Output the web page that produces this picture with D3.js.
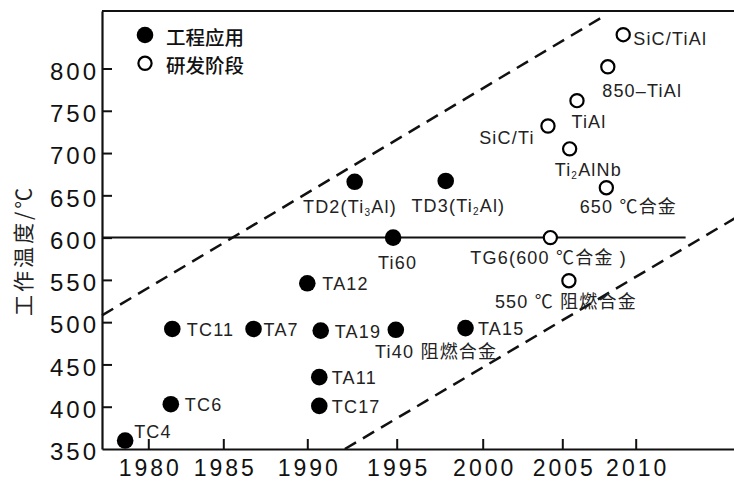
<!DOCTYPE html>
<html><head><meta charset="utf-8">
<script src="https://cdn.jsdelivr.net/npm/d3@7"></script>
<style>body{margin:0;background:#fff} svg{display:block}</style>
</head><body>
<svg id="chart" width="734" height="481"></svg>
<script>
// ---------- data ----------
const yearTicks = [1980, 1985, 1990, 1995, 2000, 2005, 2010];
const tempTicks = [350, 400, 450, 500, 550, 600, 650, 700, 750, 800];
const names  = ["TC4","TC6","TC11","TA7","TA12","TA19","TA11","TC17","Ti40","TA15","Ti60","TD2","TD3",
                "TG6","550","SiC/Ti","TiAl","Ti2AlNb","650","850-TiAl","SiC/TiAl"];
const years  = [1978.5,1981.5,1981.6,1986.8,1990.0,1990.75,1990.67,1990.67,1994.95,1999.0,1994.8,1992.65,1997.85,
                2004.25,2005.45,2004.1,2006.0,2005.5,2008.0,2008.1,2009.15];
const temps  = [360,403,492,492,546,490,435,401,491,493,600,666,667,
                600,549,732,762,705,659,802,840];
const stage  = ["eng","eng","eng","eng","eng","eng","eng","eng","eng","eng","eng","eng","eng",
                "dev","dev","dev","dev","dev","dev","dev","dev"];
const labels = ["TC4","TC6","TC11","TA7","TA12","TA19","TA11","TC17","Ti40  阻燃合金","TA15","Ti60",
                "TD2(Ti_3Al)","TD3(Ti_2Al)","TG6(600 ℃合金 )","550 ℃ 阻燃合金","SiC/Ti","TiAl","Ti_2AlNb",
                "650 ℃合金","850–TiAl","SiC/TiAl"];
const legendLabels = ["工程应用", "研发阶段"];
const stageKeys = ["eng", "dev"];
const yTitle = "工作温度/℃";
const refTemp = 600, refEndYear = 2013.4;
const upperYears = [1977, 2007.6],  upperTemps = [508, 859.5];
const lowerYears = [1992.1, 2017],  lowerTemps = [350, 625.4];

// ---------- layout ----------
const W = 734, H = 481;
const x = d3.scaleLinear()
  .domain([1977, ...yearTicks, 2017])
  .range([102, 148.3, 223.3, 307.3, 396.7, 482.7, 562.3, 635.7, 738.5]);
const y = d3.scaleLinear().domain([350, 868]).range([449, 11]);

// label placement: [dx, dy, anchor]
const labelPos = {
  "TC4":[9,-3,"start"], "TC6":[14,7,"start"], "TC11":[14.5,7,"start"], "TA7":[10,7,"start"],
  "TA12":[15,7,"start"], "TA19":[14,7,"start"], "TA11":[12.5,7,"start"], "TC17":[12.5,7,"start"],
  "Ti40":[-20.7,28,"start"], "TA15":[12.5,7,"start"], "Ti60":[4.5,31,"middle"],
  "TD2":[-51.7,31,"start"], "TD3":[-34.3,31,"start"], "TG6":[-80,26.5,"start"], "550":[-74,27,"start"],
  "SiC/Ti":[-13.3,18,"end"], "TiAl":[-5.6,27.3,"start"], "Ti2AlNb":[-15,26.7,"start"],
  "650":[-26.7,25.3,"start"], "850-TiAl":[-5.6,30,"start"], "SiC/TiAl":[10,10.7,"start"]
};

const svg = d3.select("#chart");
svg.append("rect").attr("width", W).attr("height", H).attr("fill", "#fff");
const LATIN = "'Liberation Sans', Arial, 'Noto Sans CJK SC', sans-serif";

// axes
const gx = svg.append("g").attr("transform", "translate(0,449)")
  .call(d3.axisBottom(x).tickValues(yearTicks).tickFormat(d3.format("d"))
        .tickSizeInner(-10).tickSizeOuter(0).tickPadding(10.5));
const gy = svg.append("g").attr("transform", "translate(102,0)")
  .call(d3.axisLeft(y).tickValues(tempTicks).tickSizeInner(-10).tickSizeOuter(0).tickPadding(3));
[gx, gy].forEach(g => {
  g.select(".domain").attr("stroke", "#111").attr("stroke-width", 2.2);
  g.selectAll(".tick line").attr("stroke", "#111").attr("stroke-width", 2);
  g.selectAll(".tick text").attr("fill", "#111").style("font-family", LATIN)
    .style("letter-spacing", "3px");
});
gx.selectAll(".tick text").style("font-size", "23px").attr("dx", "1.5");
gy.selectAll(".tick text").style("font-size", "24px").attr("dy", "0.45em");
gy.selectAll(".tick").filter(d => d === 350).select("line").remove();

// top frame line
svg.append("line").attr("x1", x(1977)).attr("x2", W).attr("y1", y(868)).attr("y2", y(868))
  .attr("stroke", "#111").attr("stroke-width", 2.2);

// y title
svg.append("text").attr("transform", `translate(22,${y(585)}) rotate(-90)`)
  .attr("text-anchor", "middle").attr("dominant-baseline", "central")
  .style("font-family", "'Noto Sans CJK SC', sans-serif").style("font-size", "21px")
  .style("letter-spacing", "3px").attr("fill", "#222").text(yTitle);

// reference line at 600
svg.append("line").attr("x1", x(1977)).attr("x2", x(refEndYear))
  .attr("y1", y(refTemp)).attr("y2", y(refTemp)).attr("stroke", "#111").attr("stroke-width", 2);

// dashed trend lines
const line = d3.line().x(d => x(d[0])).y(d => y(d[1]));
[[upperYears, upperTemps], [lowerYears, lowerTemps]].forEach(([ys, ts]) => {
  svg.append("path").datum(ys.map((v, i) => [v, ts[i]])).attr("d", line)
    .attr("fill", "none").attr("stroke", "#111").attr("stroke-width", 2.5)
    .attr("stroke-dasharray", "13,8");
});

// points
const pts = names.map((n, i) => ({name: n, year: years[i], temp: temps[i], stage: stage[i], label: labels[i]}));
svg.append("g").selectAll("circle").data(pts).join("circle")
  .attr("cx", d => x(d.year)).attr("cy", d => y(d.temp))
  .attr("r", d => d.stage === "eng" ? 8.3 : 6.6)
  .attr("fill", d => d.stage === "eng" ? "#000" : "#fff")
  .attr("stroke", "#000").attr("stroke-width", d => d.stage === "eng" ? 0 : 2.2);

// labels
function richText(sel, str) {
  const parts = str.split(/_(\d)/);
  let shifted = false;
  parts.forEach((p, i) => {
    if (p === "") return;
    const t = sel.append("tspan").text(p);
    if (i % 2 === 1) { t.style("font-size", "10px").attr("dy", 3); shifted = true; }
    else if (shifted) { t.attr("dy", -3); shifted = false; }
  });
}
const lg = svg.append("g").style("font-family", LATIN).style("font-size", "18px")
  .style("letter-spacing", "1.2px").attr("fill", "#222");
pts.forEach(d => {
  const [dx, dy, anchor] = labelPos[d.name];
  const t = lg.append("text").attr("x", x(d.year) + dx).attr("y", y(d.temp) + dy)
    .attr("text-anchor", anchor);
  richText(t, d.label);
});

// legend
const leg = svg.append("g");
stageKeys.forEach((k, i) => {
  const cy = 35 + i * 28.3;
  leg.append("circle").attr("cx", 145).attr("cy", cy).attr("r", k === "eng" ? 8.3 : 6.6)
    .attr("fill", k === "eng" ? "#000" : "#fff").attr("stroke", "#000")
    .attr("stroke-width", k === "eng" ? 0 : 2.2);
  leg.append("text").attr("x", 166).attr("y", cy + 1.5).attr("dominant-baseline", "central")
    .style("font-family", "'Noto Sans CJK SC', sans-serif").style("font-size", "19.5px")
    .style("font-weight", 500).attr("fill", "#111").text(legendLabels[i]);
});
</script>
</body></html>
